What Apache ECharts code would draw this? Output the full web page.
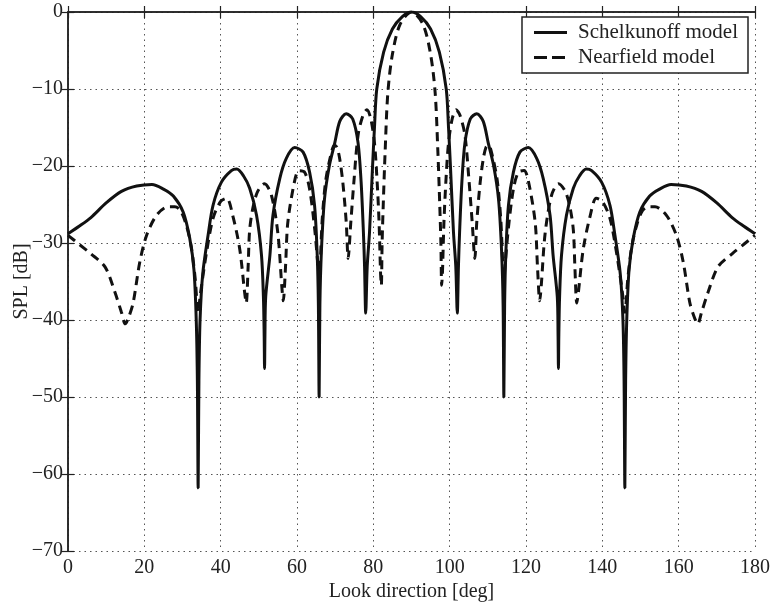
<!DOCTYPE html>
<html>
<head>
<meta charset="utf-8">
<script src="https://cdn.jsdelivr.net/npm/echarts@6/dist/echarts.min.js"></script>
<style>
html,body{margin:0;padding:0;background:#fff;}
#chart{width:773px;height:603px;}
</style>
</head>
<body>
<div id="chart"></div>
<script>
// Schelkunoff model (look direction in deg, SPL in dB)
var schelDeg = [0,3,6,10,14,18,22,25,27.6,30.2,31.9,33.0,33.6,33.9,34.1,34.3,34.6,35.3,36.7,38,40.2,42.8,44.2,46,47.6,49.4,50.7,51.2,51.4,51.5,51.6,51.8,52.9,53.7,55.5,57.2,59.4,61.6,63.3,64.6,65.3,65.6,65.8,66.0,66.4,67.2,68.5,69.9,71.2,72.9,74.6,76,76.8,77.4,77.7,78.0,78.4,79.0,79.8,80.3,80.9,82.7,85,87.6,90,
  92.4,95,97.3,99.1,99.7,100.2,101,101.6,102,102.3,102.6,103.2,104,105.4,107.1,108.8,110.1,111.5,112.8,113.6,114.0,114.2,114.4,114.7,115.4,116.7,118.4,120.6,122.8,124.5,126.3,127.1,128.2,128.4,128.5,128.6,128.8,129.3,130.6,132.4,134,135.8,137.2,139.8,142,143.3,144.7,145.4,145.7,145.9,146.1,146.4,147,148.1,149.8,152.4,155,158,162,166,170,174,177,180];
var schelDb = [-28.8,-27.8,-26.7,-24.8,-23.3,-22.6,-22.4,-23.0,-23.9,-26.0,-29.4,-33.5,-40,-48,-61.8,-48,-40,-34,-29,-25.1,-22.1,-20.6,-20.4,-21.3,-22.9,-26.4,-31.6,-37,-42,-46.3,-42,-37,-31.6,-26.4,-21.6,-19,-17.6,-18.2,-20.8,-25.1,-31.6,-38,-50,-38,-31,-24.3,-19.9,-17,-14.2,-13.2,-13.9,-17,-22.1,-28.6,-33,-39.1,-33,-28.6,-20,-15,-10,-5.2,-2.2,-0.6,0,
  -0.6,-2.2,-5.2,-10,-15,-20,-28.6,-33,-39.1,-33,-28.6,-22.1,-17,-13.9,-13.2,-14.2,-17,-19.9,-24.3,-31,-38,-50,-38,-31.6,-25.1,-20.8,-18.2,-17.6,-19,-21.6,-26.4,-31.6,-37,-42,-46.3,-42,-37,-31.6,-26.4,-22.9,-21.3,-20.4,-20.6,-22.1,-25.1,-29,-34,-40,-48,-61.8,-48,-40,-33.5,-29.4,-26,-23.9,-23,-22.4,-22.6,-23.3,-24.8,-26.7,-27.8,-28.8];

// Nearfield model
var nearDeg = [0,3,6,9.7,12.3,14,15,16,17.1,18.8,20.6,23.2,26.2,28,29.5,31,32.3,33.3,34.1,34.6,35,36.3,38,40,41.6,43.2,45,46.3,46.7,47.2,47.6,48.5,49.7,51.5,53.3,55,56,56.4,57,57.6,59.4,60.5,62,63.3,64.6,65.5,65.8,66.6,67.5,68.8,69.8,70.5,71.2,72,72.9,73.4,74.1,74.9,76,77.3,78.3,79.3,80.3,81,81.5,81.9,82.1,82.3,82.6,83.1,83.8,85,87,90,
  93,95,96.2,96.9,97.4,97.7,97.9,98.1,98.5,99,99.7,100.7,101.7,102.7,104,105.1,105.9,106.6,107.1,108,108.8,109.5,110.2,111.2,112.5,113.4,114.2,114.5,115.4,116.7,118,119.5,120.6,122.4,123,123.6,124,125,126.7,128.5,130.3,131.5,132.4,132.8,133.3,133.7,135,136.8,138.4,140,142,143.7,145,145.4,145.9,146.7,147.7,149,150.5,152,153.8,156.8,159.4,161.2,162.9,164,165,166,167.7,170.3,174,177,180];
var nearDb = [-29,-30.2,-31.4,-33.1,-36.4,-39,-40.5,-39.5,-37.7,-32.5,-29,-26.4,-25.3,-25.3,-25.8,-27.7,-30.5,-34.5,-39,-37,-35.5,-31.2,-26.8,-24.6,-24.2,-26.5,-30.8,-36.5,-37.8,-33,-28.3,-25.3,-23.3,-22.3,-23.8,-28.8,-35.5,-37.5,-33,-27.3,-21.9,-20.6,-20.8,-23,-28,-33,-34.5,-27,-22,-18.7,-17.3,-17.6,-19.1,-22.1,-27.3,-32,-27.3,-22.1,-16,-13.4,-12.7,-13.8,-17,-22.1,-27.3,-34,-35.5,-30,-25,-18,-10.5,-5.5,-1.6,0,
  -1.6,-5.5,-10.5,-18,-25,-30,-35.5,-34,-27.3,-22.1,-17,-13.8,-12.7,-13.4,-16,-22.1,-27.3,-32,-27.3,-22.1,-19.1,-17.6,-17.3,-18.7,-22,-27,-34.5,-33,-28,-23,-20.8,-20.6,-21.9,-27.3,-33,-37.5,-35.5,-28.8,-23.8,-22.3,-23.3,-25.3,-28.3,-33,-37.8,-36.5,-30.8,-26.5,-24.2,-24.6,-26.8,-31.2,-35.5,-37,-39,-34.5,-30.5,-27.7,-25.8,-25.3,-25.3,-26.4,-29,-32.5,-37.7,-39.5,-40.5,-39,-36.4,-33.1,-31.4,-30.2,-29];

var seriesNames = ['Schelkunoff model', 'Nearfield model'];
var xTitle = 'Look direction [deg]';
var yTitle = 'SPL [dB]';

function pairs(xs, ys){ return xs.map(function(x,i){ return [x, ys[i]]; }); }
function minusFmt(v){ return v < 0 ? '\u2212' + (-v) : String(v); }

var FONT = 'Liberation Serif';
var chart = echarts.init(document.getElementById('chart'), null, {renderer:'canvas'});
var gridLine = {show:true, lineStyle:{color:'#555', width:1, type:[1.5,4]}};
var axisLine = {show:true, lineStyle:{color:'#222', width:1.5}};
var tick = {show:true, inside:true, length:6, lineStyle:{color:'#222', width:1.2}};
chart.setOption({
  backgroundColor:'#fff',
  animation:false,
  grid:{left:68, right:18, top:12, bottom:52, containLabel:false, outerBoundsMode:'none'},
  legend:{
    orient:'vertical', right:25, top:17,
    padding:[5,10,5,12], itemGap:4, itemWidth:33, itemHeight:3,
    borderColor:'#222', borderWidth:1.5, backgroundColor:'#fff',
    textStyle:{fontFamily:FONT, fontSize:21, color:'#222', padding:[0,0,0,6]},
    data:[
      {name:seriesNames[0], icon:'path://M0,0H33V3H0Z'},
      {name:seriesNames[1], icon:'path://M0,0H13V3H0Z M18,0H31V3H18Z M33,0H33V3H33Z'}
    ]
  },
  xAxis:[{
    type:'value', min:0, max:180, interval:20,
    name:xTitle, nameLocation:'middle', nameGap:31, nameMoveOverlap:false,
    nameTextStyle:{fontFamily:FONT, fontSize:20, color:'#222'},
    axisLine:axisLine, axisTick:tick,
    axisLabel:{fontFamily:FONT, fontSize:20, color:'#222', margin:7},
    splitLine:gridLine
  },{
    type:'value', min:0, max:180, interval:20, position:'top',
    axisLine:axisLine, axisTick:tick,
    axisLabel:{show:false}, splitLine:{show:false}
  }],
  yAxis:[{
    type:'value', min:-70, max:0, interval:10,
    name:yTitle, nameLocation:'middle', nameGap:36, nameRotate:90, nameMoveOverlap:false,
    nameTextStyle:{fontFamily:FONT, fontSize:20, color:'#222'},
    axisLine:axisLine, axisTick:tick,
    axisLabel:{fontFamily:FONT, fontSize:20, color:'#222', margin:5, formatter:minusFmt},
    splitLine:gridLine
  },{
    type:'value', min:-70, max:0, interval:10, position:'right',
    axisLine:axisLine, axisTick:tick,
    axisLabel:{show:false}, splitLine:{show:false}
  }],
  series:[{
    name:seriesNames[0], type:'line', symbol:'none', smooth:0.3,
    data:pairs(schelDeg, schelDb),
    lineStyle:{color:'#111', width:3},
    itemStyle:{color:'#111'}
  },{
    name:seriesNames[1], type:'line', symbol:'none', smooth:0.3,
    data:pairs(nearDeg, nearDb),
    lineStyle:{color:'#111', width:3, type:[9,6]},
    itemStyle:{color:'#111'}
  }]
});
</script>
</body>
</html>
